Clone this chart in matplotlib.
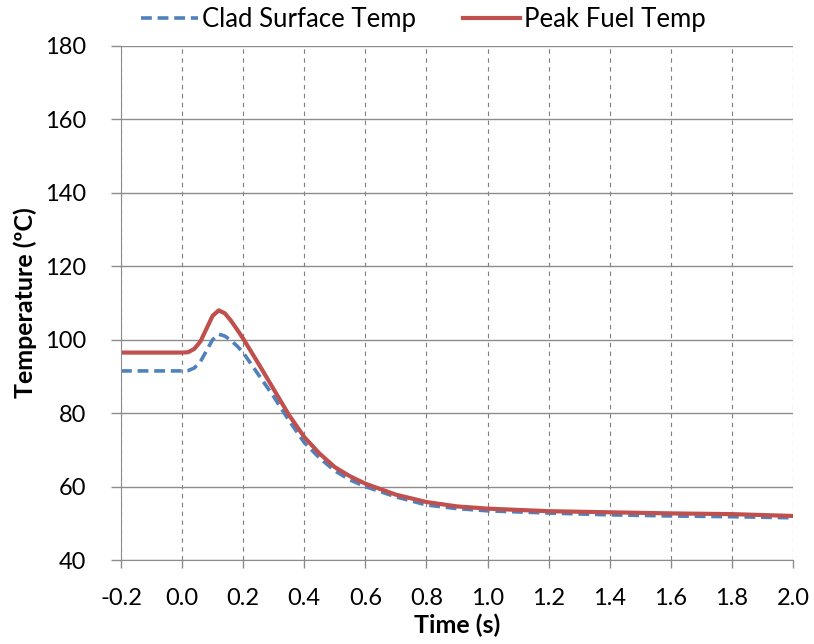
import matplotlib
matplotlib.use("Agg")
import matplotlib.pyplot as plt

# data
time = [-0.2, 0.0, 0.02, 0.04, 0.06, 0.08, 0.10, 0.12, 0.14, 0.16, 0.18, 0.20,
        0.25, 0.30, 0.35, 0.40, 0.45, 0.50, 0.55, 0.60, 0.70, 0.80, 0.90, 1.0,
        1.2, 1.4, 1.6, 1.8, 2.0]
clad = [91.5, 91.5, 91.6, 92.3, 94.0, 97.0, 100.0, 101.5, 101.0, 99.8, 98.3, 96.5,
        90.5, 84.5, 78.0, 72.0, 67.8, 64.3, 61.8, 60.0, 57.2, 55.0, 54.0, 53.4,
        52.8, 52.3, 52.0, 51.8, 51.5]
fuel = [96.5, 96.5, 96.6, 97.5, 99.5, 103.0, 106.5, 108.0, 107.2, 105.2, 102.8, 100.3,
        93.5, 86.5, 79.5, 73.5, 69.0, 65.3, 62.8, 60.8, 57.8, 55.8, 54.6, 54.0,
        53.3, 53.0, 52.7, 52.5, 52.0]
xticks = [round(-0.2 + 0.2 * i, 1) for i in range(12)]
yticks = list(range(40, 181, 20))

plt.rcParams["font.family"] = ["Lato", "DejaVu Sans"]

fig = plt.figure(figsize=(8.14, 6.44), dpi=100)
ax = fig.add_axes([0.1486, 0.1304, 0.8256, 0.7982])

l1, = ax.plot(time, clad, color="#4F81BD", lw=2.6, ls=(0, (3, 1.6)), label="Clad Surface Temp")
l2, = ax.plot(time, fuel, color="#C0504D", lw=3.0, label="Peak Fuel Temp")

ax.set_xlim(-0.2, 2.0)
ax.set_ylim(40, 180)
ax.set_xticks(xticks)
ax.set_yticks(yticks)
ax.set_xticklabels([f"{v:.1f}" for v in xticks])

ax.grid(axis="x", color="#7f7f7f", ls=(0, (4, 4)), lw=0.8)
ax.grid(axis="y", color="#8c8c8c", ls="-", lw=1.0)
ax.set_axisbelow(True)
for s in ("top", "right"):
    ax.spines[s].set_visible(False)
for s in ("left", "bottom"):
    ax.spines[s].set_color("#8c8c8c")
ax.tick_params(axis="both", labelsize=17, color="#8c8c8c", width=1.0)
ax.tick_params(axis="x", length=6, pad=14)
ax.tick_params(axis="y", length=7, pad=18)

ax.set_xlabel("Time (s)", fontsize=18, fontweight="bold")
ax.set_ylabel("Temperature (ºC)", fontsize=18, fontweight="bold")
ax.xaxis.set_label_coords(0.5, -0.105)
ax.yaxis.set_label_coords(-0.125, 0.5)

fig.legend(handles=[l1, l2], loc="upper center", bbox_to_anchor=(0.52, 1.025), ncol=2,
           frameon=False, fontsize=18.5, handlelength=2.25, columnspacing=1.8,
           handletextpad=0.15)

fig.savefig("out.png", dpi=100)
